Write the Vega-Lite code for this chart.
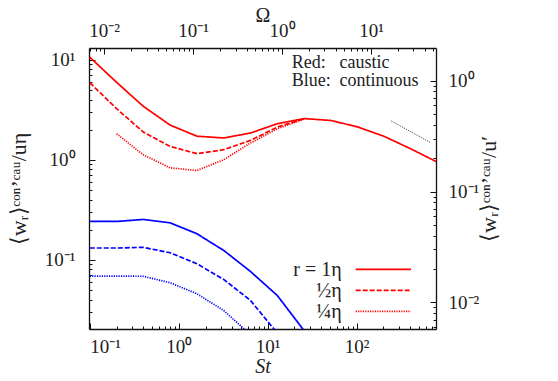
{
  "$schema": "https://vega.github.io/schema/vega-lite/v6.json",
  "width": 347,
  "height": 281,
  "autosize": {"type": "none"},
  "padding": {"left": 89, "top": 48, "right": 122, "bottom": 52},
  "background": "white",
  "config": {
    "view": {"stroke": null},
    "axis": {
      "grid": false,
      "labelFont": "Liberation Serif",
      "labelFontSize": 19,
      "labelColor": "#222",
      "titleFont": "Liberation Serif",
      "titleFontSize": 19,
      "titleFontWeight": "normal",
      "titleColor": "#222",
      "domainColor": "#111",
      "domainWidth": 1.3,
      "tickColor": "#111",
      "tickWidth": 1
    },
    "text": {"font": "Liberation Serif", "color": "#222"}
  },
  "datasets": {
    "curves": [
      {"St": 0.1, "v": 10.6, "regime": "caustic", "r": "1"},
      {"St": 0.2, "v": 5.95, "regime": "caustic", "r": "1"},
      {"St": 0.4, "v": 3.42, "regime": "caustic", "r": "1"},
      {"St": 0.8, "v": 2.22, "regime": "caustic", "r": "1"},
      {"St": 1.6, "v": 1.72, "regime": "caustic", "r": "1"},
      {"St": 3.2, "v": 1.65, "regime": "caustic", "r": "1"},
      {"St": 6.4, "v": 1.85, "regime": "caustic", "r": "1"},
      {"St": 12.8, "v": 2.29, "regime": "caustic", "r": "1"},
      {"St": 25.6, "v": 2.58, "regime": "caustic", "r": "1"},
      {"St": 51.2, "v": 2.47, "regime": "caustic", "r": "1"},
      {"St": 102.4, "v": 2.13, "regime": "caustic", "r": "1"},
      {"St": 204.8, "v": 1.71, "regime": "caustic", "r": "1"},
      {"St": 409.6, "v": 1.28, "regime": "caustic", "r": "1"},
      {"St": 819.2, "v": 0.94, "regime": "caustic", "r": "1"},
      {"St": 0.1, "v": 5.89, "regime": "caustic", "r": "1/2"},
      {"St": 0.2, "v": 3.24, "regime": "caustic", "r": "1/2"},
      {"St": 0.4, "v": 1.89, "regime": "caustic", "r": "1/2"},
      {"St": 0.8, "v": 1.36, "regime": "caustic", "r": "1/2"},
      {"St": 1.6, "v": 1.15, "regime": "caustic", "r": "1/2"},
      {"St": 3.2, "v": 1.26, "regime": "caustic", "r": "1/2"},
      {"St": 6.4, "v": 1.56, "regime": "caustic", "r": "1/2"},
      {"St": 12.8, "v": 2.12, "regime": "caustic", "r": "1/2"},
      {"St": 25.6, "v": 2.56, "regime": "caustic", "r": "1/2"},
      {"St": 0.2, "v": 1.82, "regime": "caustic", "r": "1/4"},
      {"St": 0.4, "v": 1.12, "regime": "caustic", "r": "1/4"},
      {"St": 0.8, "v": 0.83, "regime": "caustic", "r": "1/4"},
      {"St": 1.6, "v": 0.78, "regime": "caustic", "r": "1/4"},
      {"St": 3.2, "v": 1.0, "regime": "caustic", "r": "1/4"},
      {"St": 6.4, "v": 1.47, "regime": "caustic", "r": "1/4"},
      {"St": 12.8, "v": 2.04, "regime": "caustic", "r": "1/4"},
      {"St": 25.6, "v": 2.55, "regime": "caustic", "r": "1/4"},
      {"St": 0.1, "v": 0.2415, "regime": "continuous", "r": "1"},
      {"St": 0.2, "v": 0.2415, "regime": "continuous", "r": "1"},
      {"St": 0.4, "v": 0.253, "regime": "continuous", "r": "1"},
      {"St": 0.8, "v": 0.234, "regime": "continuous", "r": "1"},
      {"St": 1.6, "v": 0.182, "regime": "continuous", "r": "1"},
      {"St": 3.2, "v": 0.124, "regime": "continuous", "r": "1"},
      {"St": 6.4, "v": 0.0764, "regime": "continuous", "r": "1"},
      {"St": 12.8, "v": 0.044, "regime": "continuous", "r": "1"},
      {"St": 25.6, "v": 0.0196, "regime": "continuous", "r": "1"},
      {"St": 0.1, "v": 0.131, "regime": "continuous", "r": "1/2"},
      {"St": 0.2, "v": 0.131, "regime": "continuous", "r": "1/2"},
      {"St": 0.4, "v": 0.133, "regime": "continuous", "r": "1/2"},
      {"St": 0.8, "v": 0.1175, "regime": "continuous", "r": "1/2"},
      {"St": 1.6, "v": 0.0912, "regime": "continuous", "r": "1/2"},
      {"St": 3.2, "v": 0.0636, "regime": "continuous", "r": "1/2"},
      {"St": 6.4, "v": 0.0392, "regime": "continuous", "r": "1/2"},
      {"St": 12.8, "v": 0.0185, "regime": "continuous", "r": "1/2"},
      {"St": 0.1, "v": 0.0687, "regime": "continuous", "r": "1/4"},
      {"St": 0.2, "v": 0.0687, "regime": "continuous", "r": "1/4"},
      {"St": 0.4, "v": 0.0683, "regime": "continuous", "r": "1/4"},
      {"St": 0.8, "v": 0.0589, "regime": "continuous", "r": "1/4"},
      {"St": 1.6, "v": 0.0457, "regime": "continuous", "r": "1/4"},
      {"St": 3.2, "v": 0.0311, "regime": "continuous", "r": "1/4"},
      {"St": 6.4, "v": 0.0178, "regime": "continuous", "r": "1/4"}
    ],
    "slope": [
      {"St": 245, "v": 2.44},
      {"St": 690, "v": 1.47}
    ],
    "legend": [
      {"St": 97.5, "St2": 408, "v": 0.080, "r": "1", "label": "r = 1η"},
      {"St": 97.5, "St2": 408, "v": 0.0493, "r": "1/2", "label": "½η"},
      {"St": 97.5, "St2": 408, "v": 0.0304, "r": "1/4", "label": "¼η"}
    ],
    "notes": [
      {"St": 18.6, "v": 8.32, "label": "Red:"},
      {"St": 64, "v": 8.32, "label": "caustic"},
      {"St": 18.6, "v": 5.46, "label": "Blue:"},
      {"St": 64, "v": 5.46, "label": "continuous"}
    ],
    "anchor": [{"a": 1, "b": 0.1}]
  },
  "layer": [
    {
      "layer": [
        {
          "data": {"name": "curves"},
          "mark": {"type": "line", "clip": true, "strokeWidth": 1.7},
          "encoding": {
            "x": {
              "field": "St", "type": "quantitative",
              "scale": {"type": "log", "domain": [0.098, 780], "nice": false},
              "axis": {
                "orient": "bottom",
                "values": [0.1, 1, 10, 100],
                "tickSize": -6,
                "labelPadding": 14,
                "labelExpr": "datum.value < 0.5 ? '10⁻¹' : datum.value < 5 ? '10⁰' : datum.value < 50 ? '10¹' : '10²'",
                "title": "St",
                "titleFontSize": 20,
                "titleFontStyle": "italic",
                "titlePadding": 0
              }
            },
            "y": {
              "field": "v", "type": "quantitative",
              "scale": {"type": "log", "domain": [0.0203, 13.1], "nice": false},
              "axis": {
                "orient": "left",
                "values": [0.1, 1, 10],
                "tickSize": -6,
                "labelPadding": 20,
                "labelExpr": "datum.value < 0.5 ? '10⁻¹' : datum.value < 5 ? '10⁰' : '10¹'",
                "title": "⟨wᵣ⟩ᶜᵒⁿʼᶜᵃᵘ/uη",
                "titleFontSize": 22,
                "titlePadding": 14
              }
            },
            "color": {
              "field": "regime", "type": "nominal",
              "scale": {"domain": ["caustic", "continuous"], "range": ["#ff0000", "#0000ff"]},
              "legend": null
            },
            "strokeDash": {
              "field": "r", "type": "nominal",
              "scale": {"domain": ["1", "1/2", "1/4"], "range": [[1, 0], [5, 2], [1.2, 1.2]]},
              "legend": null
            }
          }
        },
        {
          "data": {"name": "slope"},
          "mark": {"type": "line", "clip": true, "strokeWidth": 1, "color": "#444", "strokeDash": [1.2, 1.2]},
          "encoding": {
            "x": {"field": "St", "type": "quantitative", "scale": {"type": "log", "domain": [0.098, 780], "nice": false}},
            "y": {"field": "v", "type": "quantitative", "scale": {"type": "log", "domain": [0.0203, 13.1], "nice": false}}
          }
        },
        {
          "data": {"name": "legend"},
          "mark": {"type": "rule", "strokeWidth": 1.7, "color": "#ff0000"},
          "encoding": {
            "x": {"field": "St", "type": "quantitative", "scale": {"type": "log", "domain": [0.098, 780], "nice": false}},
            "x2": {"field": "St2"},
            "y": {"field": "v", "type": "quantitative", "scale": {"type": "log", "domain": [0.0203, 13.1], "nice": false}},
            "strokeDash": {
              "field": "r", "type": "nominal",
              "scale": {"domain": ["1", "1/2", "1/4"], "range": [[1, 0], [5, 2], [1.2, 1.2]]},
              "legend": null
            }
          }
        },
        {
          "data": {"name": "legend"},
          "mark": {"type": "text", "align": "right", "baseline": "middle", "fontSize": 20, "dx": -14, "dy": 1},
          "encoding": {
            "x": {"field": "St", "type": "quantitative", "scale": {"type": "log", "domain": [0.098, 780], "nice": false}},
            "y": {"field": "v", "type": "quantitative", "scale": {"type": "log", "domain": [0.0203, 13.1], "nice": false}},
            "text": {"field": "label"}
          }
        },
        {
          "data": {"name": "notes"},
          "mark": {"type": "text", "align": "left", "baseline": "alphabetic", "fontSize": 18},
          "encoding": {
            "x": {"field": "St", "type": "quantitative", "scale": {"type": "log", "domain": [0.098, 780], "nice": false}},
            "y": {"field": "v", "type": "quantitative", "scale": {"type": "log", "domain": [0.0203, 13.1], "nice": false}},
            "text": {"field": "label"}
          }
        }
      ]
    },
    {
      "data": {"name": "anchor"},
      "mark": {"type": "point", "opacity": 0},
      "encoding": {
        "x": {
          "field": "a", "type": "quantitative",
          "scale": {"type": "log", "domain": [0.098, 780], "nice": false},
          "axis": {"orient": "bottom", "values": [0.2,0.3,0.4,0.5,0.6,0.7,0.8,0.9,2,3,4,5,6,7,8,9,20,30,40,50,60,70,80,90,200,300,400,500,600,700], "tickSize": -3, "labels": false, "domain": false, "title": null}
        },
        "y": {
          "field": "b", "type": "quantitative",
          "scale": {"type": "log", "domain": [0.0203, 13.1], "nice": false},
          "axis": {"orient": "left", "values": [0.03,0.04,0.05,0.06,0.07,0.08,0.09,0.2,0.3,0.4,0.5,0.6,0.7,0.8,0.9,2,3,4,5,6,7,8,9], "tickSize": -3, "labels": false, "domain": false, "title": null}
        }
      }
    },
    {
      "data": {"name": "anchor"},
      "mark": {"type": "point", "opacity": 0},
      "encoding": {
        "x": {
          "field": "a", "type": "quantitative",
          "scale": {"type": "log", "domain": [0.00676, 53.8], "nice": false},
          "axis": {
            "orient": "top",
            "values": [0.01, 0.1, 1, 10],
            "tickSize": -6,
            "labelPadding": 14,
            "labelExpr": "datum.value < 0.05 ? '10⁻²' : datum.value < 0.5 ? '10⁻¹' : datum.value < 5 ? '10⁰' : '10¹'",
            "title": "Ω",
            "titleFontSize": 20,
            "titlePadding": -4
          }
        },
        "y": {
          "field": "b", "type": "quantitative",
          "scale": {"type": "log", "domain": [0.00575, 1.97], "nice": false},
          "axis": {
            "orient": "right",
            "values": [0.01, 0.1, 1],
            "tickSize": -6,
            "labelPadding": 18,
            "labelExpr": "datum.value < 0.05 ? '10⁻²' : datum.value < 0.5 ? '10⁻¹' : '10⁰'",
            "title": "⟨wᵣ⟩ᶜᵒⁿʼᶜᵃᵘ/u′",
            "titleFontSize": 22,
            "titleAngle": 270,
            "titlePadding": 22
          }
        }
      }
    },
    {
      "data": {"name": "anchor"},
      "mark": {"type": "point", "opacity": 0},
      "encoding": {
        "x": {
          "field": "a", "type": "quantitative",
          "scale": {"type": "log", "domain": [0.00676, 53.8], "nice": false},
          "axis": {"orient": "top", "values": [0.007,0.008,0.009,0.02,0.03,0.04,0.05,0.06,0.07,0.08,0.09,0.2,0.3,0.4,0.5,0.6,0.7,0.8,0.9,2,3,4,5,6,7,8,9,20,30,40,50], "tickSize": -3, "labels": false, "domain": false, "title": null}
        },
        "y": {
          "field": "b", "type": "quantitative",
          "scale": {"type": "log", "domain": [0.00575, 1.97], "nice": false},
          "axis": {"orient": "right", "values": [0.006,0.007,0.008,0.009,0.02,0.03,0.04,0.05,0.06,0.07,0.08,0.09,0.2,0.3,0.4,0.5,0.6,0.7,0.8,0.9], "tickSize": -3, "labels": false, "domain": false, "title": null}
        }
      }
    }
  ],
  "resolve": {"scale": {"x": "independent", "y": "independent"}}
}
